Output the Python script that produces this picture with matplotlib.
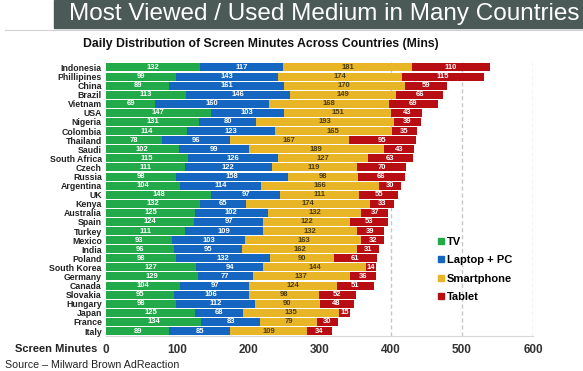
import matplotlib
matplotlib.use("Agg")
import matplotlib.pyplot as plt
import numpy as np

plt.rcParams["font.family"] = ["Liberation Sans", "DejaVu Sans"]

countries = ["Indonesia", "Phillipines", "China", "Brazil", "Vietnam", "USA",
             "Nigeria", "Colombia", "Thailand", "Saudi", "South Africa", "Czech",
             "Russia", "Argentina", "UK", "Kenya", "Australia", "Spain", "Turkey",
             "Mexico", "India", "Poland", "South Korea", "Germany", "Canada",
             "Slovakia", "Hungary", "Japan", "France", "Italy"]
tv = [132, 99, 89, 113, 69, 147, 131, 114, 78, 102, 115, 111, 98, 104, 148,
      132, 125, 124, 111, 93, 96, 98, 127, 129, 104, 95, 98, 125, 134, 89]
laptop = [117, 143, 161, 146, 160, 103, 80, 123, 96, 99, 126, 122, 158, 114, 97,
          65, 102, 97, 109, 103, 95, 132, 94, 77, 97, 106, 112, 68, 83, 85]
smartphone = [181, 174, 170, 149, 168, 151, 193, 165, 167, 189, 127, 119, 98, 166,
              111, 174, 132, 122, 132, 163, 162, 90, 144, 137, 124, 98, 90, 135, 79, 109]
tablet = [110, 115, 59, 66, 69, 43, 39, 35, 95, 43, 63, 70, 66, 30, 55, 33, 37,
          53, 39, 32, 31, 61, 14, 36, 51, 52, 48, 15, 30, 34]
series_names = ["TV", "Laptop + PC", "Smartphone", "Tablet"]
x_ticks = [0, 100, 200, 300, 400, 500, 600]

colors = ["#22a94a", "#1466c0", "#e8b526", "#b80d12"]
text_colors = ["white", "white", "#4a3c10", "white"]

fig = plt.figure(figsize=(5.83, 3.71), dpi=100)

# banner
fig.patches.append(plt.Rectangle((54 / 583, 1 - 28 / 371), 1 - 54 / 583, 28 / 371,
                                 transform=fig.transFigure, color="#4b5a57", zorder=0))
fig.lines.append(plt.Line2D([5 / 583, 1], [1 - 29.5 / 371] * 2,
                            transform=fig.transFigure, color="#d0d0d0", lw=0.8))
fig.text(324 / 583, 1 - 14 / 371, "Most Viewed / Used Medium in Many Countries",
         color="white", fontsize=17.5, ha="center", va="center")
fig.text(261 / 583, 1 - 44 / 371,
         "Daily Distribution of Screen Minutes Across Countries (Mins)",
         fontsize=8.8, fontweight="bold", ha="center", va="center", color="#111111")

ax = fig.add_axes([106 / 583, 1 - 336 / 371, 427 / 583, 274 / 371])
y = np.arange(len(countries))
left = np.zeros(len(countries))
for vals, name, col, tcol in zip([tv, laptop, smartphone, tablet], series_names,
                                 colors, text_colors):
    vals = np.array(vals, dtype=float)
    ax.barh(y, vals, left=left, height=0.88, color=col, label=name, zorder=3)
    for yi, (l, v) in enumerate(zip(left, vals)):
        ax.text(l + v / 2, yi, str(int(v)), ha="center", va="center",
                fontsize=5.5, fontweight="bold", color=tcol, zorder=4)
    left += vals

ax.set_xlim(0, 600)
ax.set_ylim(len(countries) - 0.45, -0.6)
ax.set_yticks(y)
ax.set_yticklabels(countries, fontsize=6.3, fontweight="bold", color="#222222")
ax.set_xticks(x_ticks)
ax.set_xticklabels([str(t) for t in x_ticks], fontsize=8.5, fontweight="bold",
                   color="#333333")
ax.tick_params(length=0, pad=3)
ax.tick_params(axis="x", pad=6)
for xv in [400, 500, 600]:
    ax.axvline(xv, color="#c8c8c8", ls=(0, (3, 2)), lw=1, zorder=1)
for s in ["top", "right", "left"]:
    ax.spines[s].set_visible(False)
ax.spines["bottom"].set_color("#d8d8d8")

fig.text(15 / 583, 1 - 349 / 371, "Screen Minutes", fontsize=8,
         fontweight="bold", va="center", color="#222222")
fig.text(5 / 583, 1 - 365 / 371, "Source \u2013 Milward Brown AdReaction",
         fontsize=7.7, va="center", color="#222222")

handles = [plt.Line2D([], [], marker="s", ls="", color=c, markersize=4)
           for c in colors]
fig.legend(handles, series_names, loc="upper left",
           bbox_to_anchor=(425 / 583, 1 - 227 / 371), frameon=False,
           prop={"size": 8, "weight": "bold"}, handletextpad=0.1,
           labelspacing=0.75, handlelength=1)

fig.savefig("out.png", dpi=100)
